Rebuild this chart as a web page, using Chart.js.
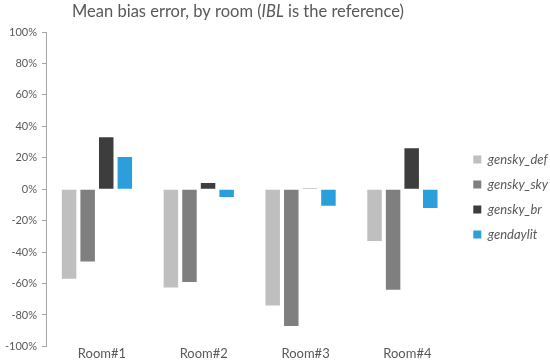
<!DOCTYPE html>
<html>
<head>
<meta charset="utf-8">
<script src="https://cdn.jsdelivr.net/npm/chart.js@4"></script>
<style>
  html, body { margin: 0; padding: 0; background: #fff; }
  #wrap { width: 550px; height: 361px; }
</style>
</head>
<body>
<div id="wrap"><canvas id="mbeChart" width="550" height="361"></canvas></div>
<script>
// room categories and the mean bias error (%) per sky model
const rooms = ['Room#1', 'Room#2', 'Room#3', 'Room#4'];
const genskyDef = [-57, -62.5, -74, -33];
const genskySky = [-46, -59, -87, -64];
const genskyBr = [33, 4, 0.5, 26];
const gendaylit = [20.5, -5, -10.5, -12];

const yTicks = [100, 80, 60, 40, 20, 0, -20, -40, -60, -80, -100];

const fontFam = 'Lato, "Open Sans", sans-serif';

// title with the italic "IBL" part
const titleParts = [
  { text: 'Mean bias error, by room (', italic: false },
  { text: 'IBL', italic: true },
  { text: ' is the reference)', italic: false }
];

const mixedTitle = {
  id: 'mixedTitle',
  afterLayout(chart) {
    // leave a gap between the plot and the legend
    chart.legend.left += 8;
    chart.legend.right += 8;
  },
  afterDraw(chart) {
    const ctx = chart.ctx;
    const size = 16.5;
    ctx.save();
    ctx.fillStyle = '#595959';
    ctx.textBaseline = 'middle';
    let total = 0;
    titleParts.forEach(p => {
      ctx.font = (p.italic ? 'italic ' : '') + size + 'px ' + fontFam;
      p.w = ctx.measureText(p.text).width;
      total += p.w;
    });
    let x = 238 - total / 2;
    titleParts.forEach(p => {
      ctx.font = (p.italic ? 'italic ' : '') + size + 'px ' + fontFam;
      ctx.fillText(p.text, x, 12);
      x += p.w;
    });
    ctx.restore();
  }
};

const bar = (label, data, color) => ({
  label: label,
  data: data,
  backgroundColor: color,
  borderWidth: 0,
  categoryPercentage: 0.73,
  barPercentage: 0.78
});

new Chart(document.getElementById('mbeChart'), {
  type: 'bar',
  data: {
    labels: rooms,
    datasets: [
      bar('gensky_def', genskyDef, '#bfbfbf'),
      bar('gensky_sky', genskySky, '#7f7f7f'),
      bar('gensky_br', genskyBr, '#3d3d3d'),
      bar('gendaylit', gendaylit, '#2b9fdb')
    ]
  },
  options: {
    responsive: false,
    animation: false,
    layout: { padding: { top: 32, left: 0, right: 0, bottom: -1 } },
    plugins: {
      title: { display: false },
      tooltip: { enabled: false },
      legend: {
        position: 'right',
        labels: {
          boxWidth: 8,
          boxHeight: 8,
          padding: 12,
          color: '#595959',
          font: { family: fontFam, size: 13, style: 'italic' }
        }
      }
    },
    scales: {
      x: {
        border: { display: false },
        grid: { display: false, drawTicks: false },
        ticks: {
          color: '#595959',
          padding: 0,
          labelOffset: 5,
          font: { family: fontFam, size: 13 }
        }
      },
      y: {
        min: -100,
        max: 100,
        afterBuildTicks: axis => { axis.ticks = yTicks.map(v => ({ value: v })); },
        border: { display: true, color: '#a6a6a6' },
        grid: {
          drawOnChartArea: false,
          drawTicks: true,
          tickLength: 4,
          color: '#a6a6a6'
        },
        ticks: {
          color: '#595959',
          padding: 5,
          font: { family: fontFam, size: 11 },
          callback: v => v + '%'
        }
      }
    }
  },
  plugins: [mixedTitle]
});
</script>
</body>
</html>
